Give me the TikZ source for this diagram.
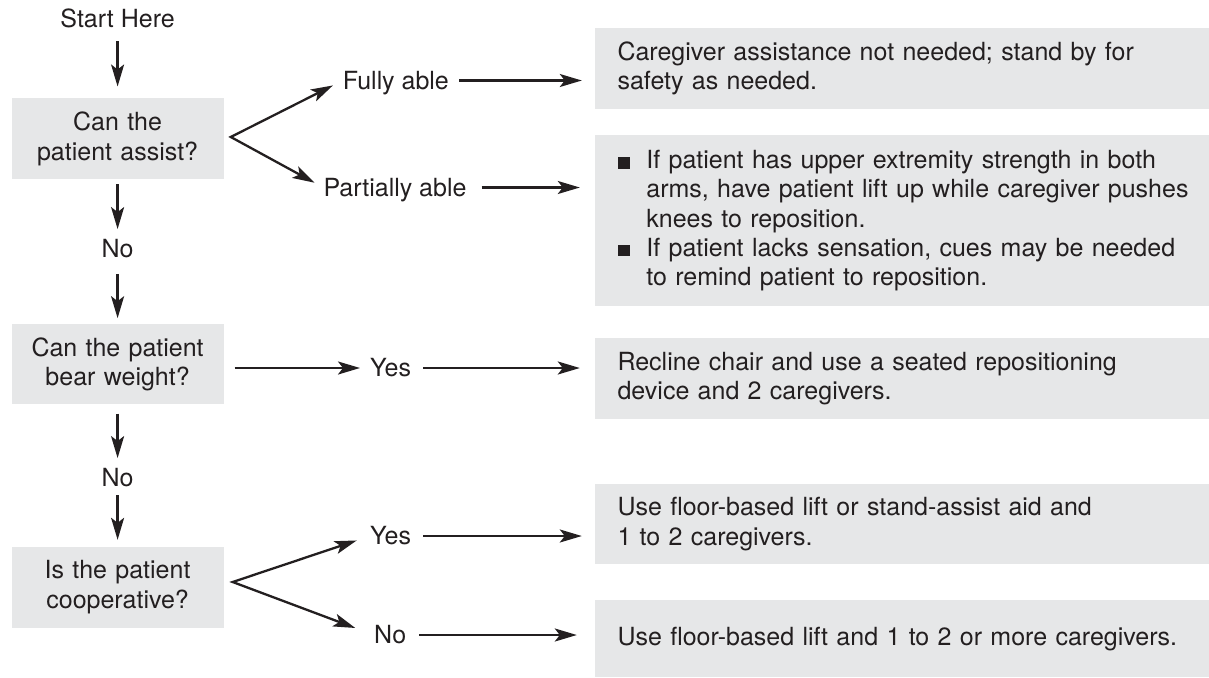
\documentclass[tikz,border=0pt]{standalone}
\usepackage{fontspec}
\setmainfont{TeX Gyre Heros}
\usetikzlibrary{arrows.meta}
\definecolor{boxgray}{HTML}{E6E7E8}
\definecolor{ink}{HTML}{231F20}
\begin{document}
\begin{tikzpicture}[x=1pt,y=-1pt,
  font=\fontsize{25}{29.3}\selectfont,
  every node/.style={text=ink},
  tipstyle/.tip={Stealth[length=22pt,width=13pt,inset=5pt]},
  arr/.style={draw=ink, line width=2.3pt, -tipstyle},
  arrboth/.style={draw=ink, line width=2.3pt, tipstyle-tipstyle, miter limit=20},
  lbl/.style={inner sep=0pt, text height=17.8pt, text depth=0pt},
  qbox/.style={fill=boxgray, inner xsep=4pt, inner ysep=0pt, minimum width=211.8pt, text width=203.8pt, align=center},
  abox/.style={fill=boxgray, anchor=north west, inner xsep=22.5pt, inner ysep=0pt, minimum width=614.2pt, text width=600pt, align=left},
]
\useasboundingbox (0,0) rectangle (1209,677);

% left column
\node[lbl] (start) at (117.6,18.5) {Start Here};
\node[qbox, minimum height=81pt] (q1) at (117.6,138.8) {Can the\\patient assist?};
\node[lbl] (no1) at (117.6,248.2) {No};
\node[qbox, minimum height=80pt] (q2) at (117.6,364.4) {Can the patient\\bear weight?};
\node[lbl] (no2) at (117.6,477.9) {No};
\node[qbox, minimum height=81pt] (q3) at (117.6,587.2) {Is the patient\\cooperative?};

% middle labels
\node[lbl, anchor=west] (fully) at (342.7,80.5) {Fully able};
\node[lbl, anchor=west] (partial) at (323.3,187.5) {Partially able};
\node[lbl, anchor=west] (yes1) at (370,368) {Yes};
\node[lbl, anchor=west] (yes2) at (370,536) {Yes};
\node[lbl, anchor=west] (no3) at (374,635) {No};

% right boxes
\node[abox, minimum height=80pt] (ra) at (594.8,28.3) {Caregiver assistance not needed; stand by for\\safety as needed.};
\node[abox, minimum height=171pt] (rb) at (594.8,135) {\makebox[28.9pt][l]{\rule{12.5pt}{11.5pt}}If patient has upper extremity strength in both\\
\hspace*{28.9pt}arms, have patient lift up while caregiver pushes\\
\hspace*{28.9pt}knees to reposition.\\
\makebox[28.9pt][l]{\rule{12.5pt}{11.5pt}}If patient lacks sensation, cues may be needed\\
\hspace*{28.9pt}to remind patient to reposition.};
\node[abox, minimum height=81pt] (rc) at (594.8,338) {Recline chair and use a seated repositioning\\device and 2 caregivers.};
\node[abox, minimum height=80pt] (rd) at (594.8,484) {Use floor-based lift or stand-assist aid and\\1 to 2 caregivers.};
\node[abox, minimum height=77pt] (re) at (594.8,600) {Use floor-based lift and 1 to 2 or more caregivers.};

% fork apexes
\coordinate (f1) at (230.8,137);
\coordinate (f2) at (232.7,582);

% vertical arrows
\draw[arr] ([yshift=-13.7pt]start.south) -- ([yshift=11.6pt]q1.north);
\draw[arr] ([yshift=-4.7pt]q1.south) -- ([yshift=10pt]no1.north);
\draw[arr] ([yshift=-16.5pt]no1.south) -- ([yshift=6pt]q2.north);
\draw[arr] ([yshift=-9pt]q2.south) -- ([yshift=10.7pt]no2.north);
\draw[arr] ([yshift=-8.3pt]no2.south) -- ([yshift=6.7pt]q3.north);

% forks
\draw[arrboth, shorten <=11pt, shorten >=10pt] (fully.west) -- (f1) -- (partial.west);
\draw[arrboth, shorten <=14pt, shorten >=20pt] (yes2.west) -- (f2) -- (no3.west);

% horizontal arrows
\draw[arr, shorten <=10pt, shorten >=13pt] (fully.east) -- (fully.east -| ra.west);
\draw[arr, shorten <=15pt, shorten >=15pt] (partial.east) -- (partial.east -| rb.west);
\draw[arr, shorten <=11pt, shorten >=10pt] (yes1.west -| q2.east) -- (yes1.west);
\draw[arr, shorten <=12pt, shorten >=15pt] (yes1.east) -- (yes1.east -| rc.west);
\draw[arr, shorten <=12pt, shorten >=13pt] (yes2.east) -- (yes2.east -| rd.west);
\draw[arr, shorten <=12.7pt, shorten >=18pt] (no3.east) -- (no3.east -| re.west);
\end{tikzpicture}
\end{document}
